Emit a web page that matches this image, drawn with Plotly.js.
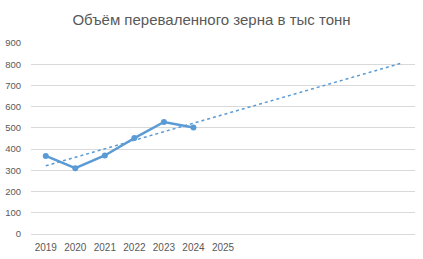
<!DOCTYPE html>
<html><head><meta charset="utf-8">
<script src="https://cdn.plot.ly/plotly-3.0.1.min.js"></script>
<style>html,body{margin:0;padding:0;background:#fff}#c{width:423px;height:259px}</style>
</head><body><div id="c"></div>
<script>
var years = [2019, 2020, 2021, 2022, 2023, 2024];
var values = [368, 310, 370, 452, 528, 502];
var labelYears = [2019, 2020, 2021, 2022, 2023, 2024, 2025];
var labelTexts = ['2019', '2020', '2021', '2022', '2023', '2024', '2025'];
var trendYears = [2019, 2031];

// linear trendline (least squares) like the spreadsheet's trendline
var n = years.length, mx = 0, my = 0;
for (var i = 0; i < n; i++) { mx += years[i]; my += values[i]; }
mx /= n; my /= n;
var sxy = 0, sxx = 0;
for (var i = 0; i < n; i++) { sxy += (years[i]-mx)*(values[i]-my); sxx += (years[i]-mx)*(years[i]-mx); }
var slope = sxy / sxx, icpt = my - slope * mx;
var trendVals = trendYears.map(function (x) { return icpt + slope * x; });

var color = '#5B9BD5';
var data = [
  {x: trendYears, y: trendVals, mode: 'lines', line: {color: color, width: 1.5, dash: 'dot'}, hoverinfo: 'skip'},
  {x: years, y: values, mode: 'lines+markers', line: {color: color, width: 2.5}, marker: {color: color, size: 6}}
];
var layout = {
  width: 423, height: 259,
  margin: {l: 31, r: 8, t: 43, b: 25},
  paper_bgcolor: '#fff', plot_bgcolor: '#fff',
  showlegend: false,
  font: {family: 'Liberation Sans, Arial, sans-serif', color: '#595959', size: 10},
  title: {text: 'Объём переваленного зерна в тыс тонн', x: 0.5, xanchor: 'center', y: 0.923, yanchor: 'middle', yref: 'container',
          font: {size: 15, color: '#595959', family: 'Liberation Sans, Arial, sans-serif'}},
  xaxis: {range: [2018.5, 2031.5], tickvals: labelYears, ticktext: labelTexts, showgrid: false, zeroline: false,
          showline: false, ticks: '', tickfont: {size: 10, color: '#595959'}, ticklabelstandoff: 6, fixedrange: true},
  yaxis: {range: [0, 900], dtick: 100, showgrid: true, gridcolor: '#D9D9D9', gridwidth: 1, zeroline: true, zerolinecolor: '#D9D9D9',
          zerolinewidth: 1, showline: false, ticks: '', tickfont: {size: 9.5, color: '#595959'}, ticklabelstandoff: 9, fixedrange: true}
};
Plotly.newPlot('c', data, layout, {staticPlot: true, displayModeBar: false});
</script></body></html>
